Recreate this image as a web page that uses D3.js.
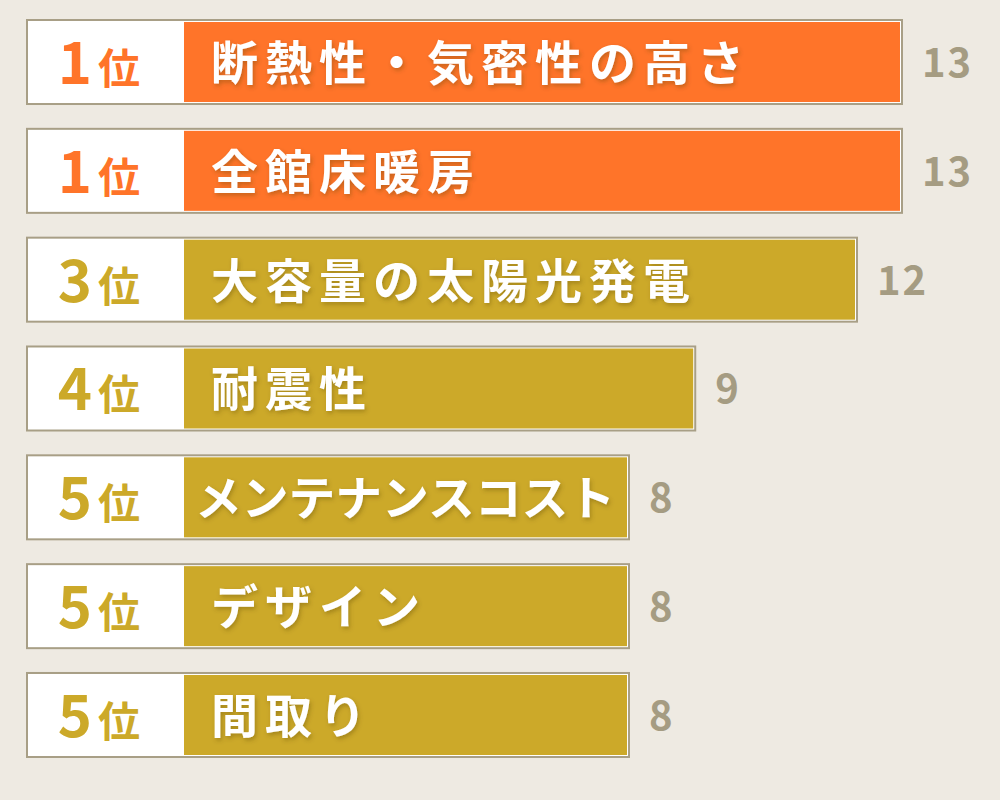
<!DOCTYPE html>
<html>
<head>
<meta charset="utf-8">
<script src="https://cdn.jsdelivr.net/npm/d3@7"></script>
<style>
  body { margin: 0; background: #eeeae2; }
  svg { display: block; }
</style>
</head>
<body>
<svg id="chart" width="1000" height="800"></svg>
<script>
// data
var items = ["断熱性・気密性の高さ", "全館床暖房", "大容量の太陽光発電", "耐震性", "メンテナンスコスト", "デザイン", "間取り"];
var values = [13, 13, 12, 9, 8, 8, 8];
var ranks = ["1", "1", "3", "4", "5", "5", "5"];

var colors_rank = { "top": "#ff7429", "other": "#cca929" };
var font = "'Noto Sans CJK JP', 'Noto Sans', sans-serif";

var svg = d3.select("#chart");

svg.append("rect")
    .attr("width", 1000)
    .attr("height", 800)
    .attr("fill", "#eeeae2");

// soft shadow behind the white labels
var defs = svg.append("defs");
defs.append("filter")
    .attr("id", "shadow")
    .attr("x", "-10%").attr("y", "-30%")
    .attr("width", "120%").attr("height", "160%")
  .append("feDropShadow")
    .attr("dx", 1.5)
    .attr("dy", 2.5)
    .attr("stdDeviation", 2)
    .attr("flood-color", "#5a4000")
    .attr("flood-opacity", 0.35);

var yScale = d3.scaleBand()
    .domain(d3.range(items.length))
    .range([20, 757])
    .paddingInner(0.228)
    .paddingOuter(0);

var xScale = d3.scaleLog()
    .domain(d3.extent(values))
    .range([629, 902]);

var boxLeft = 27;
var barLeft = 184;

var rows = svg.selectAll(".row")
    .data(items)
    .enter().append("g")
    .attr("class", "row")
    .attr("transform", function(d, i) { return "translate(0," + yScale(i) + ")"; });

var h = yScale.bandwidth();

function color_of(i) {
    return ranks[i] == "1" ? colors_rank.top : colors_rank.other;
}

// outer frame
rows.append("rect")
    .attr("x", boxLeft)
    .attr("y", 0)
    .attr("width", function(d, i) { return xScale(values[i]) - boxLeft; })
    .attr("height", h)
    .attr("fill", "#ffffff")
    .attr("stroke", "#a89f86")
    .attr("stroke-width", 2);

// coloured bar
rows.append("rect")
    .attr("x", barLeft)
    .attr("y", 2)
    .attr("width", function(d, i) { return xScale(values[i]) - barLeft - 2; })
    .attr("height", h - 4)
    .attr("fill", function(d, i) { return color_of(i); });

// rank number + 位
rows.append("text")
    .attr("x", 92)
    .attr("y", 64)
    .attr("text-anchor", "end")
    .style("font-family", font)
    .style("font-weight", 700)
    .style("font-size", "58px")
    .attr("fill", function(d, i) { return color_of(i); })
    .text(function(d, i) { return ranks[i]; });

rows.append("text")
    .attr("x", 98)
    .attr("y", 64)
    .style("font-family", font)
    .style("font-weight", 700)
    .style("font-size", "42px")
    .attr("fill", function(d, i) { return color_of(i); })
    .text("位");

// item label inside the bar
rows.append("text")
    .attr("class", "item")
    .attr("x", 211)
    .attr("y", 60)
    .style("font-family", font)
    .style("font-weight", 700)
    .style("font-size", "47px")
    .style("letter-spacing", "7px")
    .attr("fill", "#ffffff")
    .attr("filter", "url(#shadow)")
    .text(function(d) { return d; })
    .each(function(d, i) {
        var right = xScale(values[i]) - 14;
        var w = this.getComputedTextLength();
        if (211 + w > right) {
            d3.select(this)
                .attr("x", 195)
                .style("letter-spacing", "0px")
                .attr("textLength", right - 195)
                .attr("lengthAdjust", "spacingAndGlyphs");
        }
    });

// value at the end of the bar
rows.append("text")
    .attr("x", function(d, i) { return xScale(values[i]) + 20; })
    .attr("y", 57)
    .style("font-family", font)
    .style("font-weight", 700)
    .style("font-size", "40px")
    .style("letter-spacing", "2px")
    .attr("fill", "#a59c82")
    .text(function(d, i) { return values[i]; });
</script>
</body>
</html>
